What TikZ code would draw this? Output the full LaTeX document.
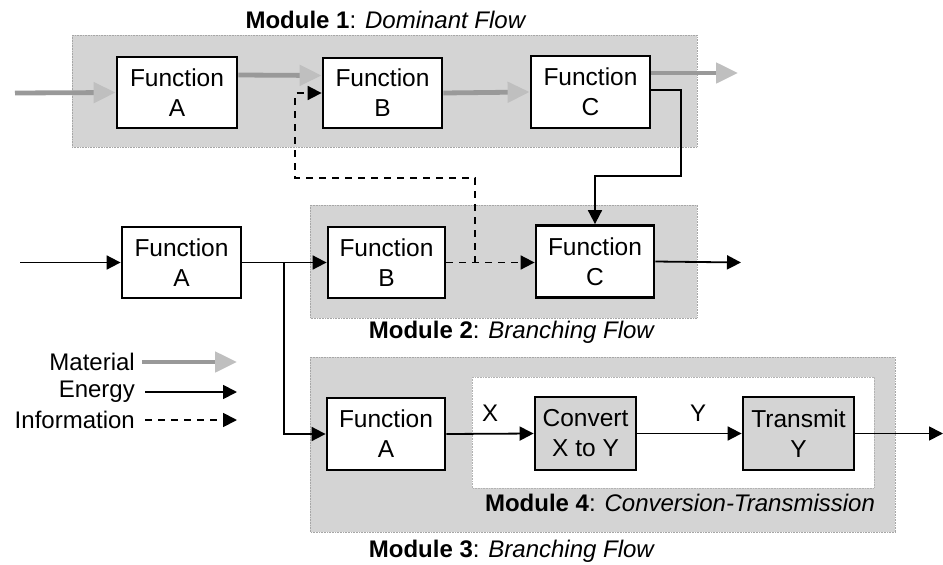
\documentclass[tikz,border=0pt]{standalone}
\usepackage{fontspec}
\setmainfont{Liberation Sans}
\usetikzlibrary{arrows.meta}
\definecolor{modgray}{gray}{0.83}
\definecolor{matgray}{gray}{0.6}
\tikzset{
  fbox/.style={draw=black, line width=2.8pt, fill=white, align=center, inner sep=0pt,
    font=\fontsize{24.5}{30}\selectfont},
  module/.style={fill=modgray, draw=gray!70, line width=0.6pt, densely dotted},
  submodule/.style={fill=white, draw=gray!60, line width=0.6pt, densely dotted},
  title/.style={font=\fontsize{24}{28}\selectfont, inner sep=0pt},
  lbl/.style={font=\fontsize{24}{28}\selectfont, inner sep=0pt},
  material/.style={draw=matgray, line width=4.8pt, -{Triangle[length=22pt,width=20pt,fill=gray!50,color=gray!50]}},
  energy/.style={draw=black, line width=1.8pt, -{Triangle[length=14pt,width=14pt]}},
  info/.style={draw=black, line width=1.8pt, dash pattern=on 7pt off 6pt, -{Triangle[length=14pt,width=14pt]}},
}
\begin{document}
\begin{tikzpicture}[x=1pt,y=-1pt]
\useasboundingbox (0,0) rectangle (943,565);
% module backgrounds
\fill[module] (72,35) rectangle (697,147);
\fill[module] (310,205) rectangle (697,318);
\fill[module] (310,357) rectangle (895,532);
\filldraw[submodule] (472,377) rectangle (874,488);
\draw[module, fill=none] (72,35) rectangle (697,147);
\draw[module, fill=none] (310,205) rectangle (697,318);
\draw[module, fill=none] (310,357) rectangle (895,532);
% titles
\node[title] (t1) at (386,20) {\textbf{Module 1}: \textit{Dominant Flow}};
\node[title] (t2) at (512,332) {\textbf{Module 2}: \textit{Branching Flow}};
\node[title] (t3) at (512,551) {\textbf{Module 3}: \textit{Branching Flow}};
\node[title] (t4) at (680,503) {\textbf{Module 4}: \textit{Conversion-Transmission}};
% boxes
\node[fbox, minimum width=120pt, minimum height=71pt] (m1A) at (177,92.5) {Function\\A};
\node[fbox, minimum width=119pt, minimum height=70pt] (m1B) at (382.5,93) {Function\\B};
\node[fbox, minimum width=119pt, minimum height=72pt] (m1C) at (590.5,92) {Function\\C};
\node[fbox, minimum width=119pt, minimum height=71pt] (m2A) at (181.5,262.5) {Function\\A};
\node[fbox, minimum width=117pt, minimum height=71pt] (m2B) at (386.5,262.5) {Function\\B};
\node[fbox, minimum width=118pt, minimum height=72pt] (m2C) at (595,261.5) {Function\\C};
\node[fbox, minimum width=118pt, minimum height=72pt] (m3A) at (386,434) {Function\\A};
\node[fbox, fill=modgray, minimum width=101pt, minimum height=73pt] (conv) at (585.5,433.5) {Convert\\X to Y};
\node[fbox, fill=modgray, minimum width=111pt, minimum height=73pt] (trans) at (798.5,433.5) {Transmit\\Y};
% coordinates
\coordinate (in1) at (15,93);
\coordinate (out1) at (738,73);
\coordinate (e1) at (681,176);
\coordinate (j) at (475,262.5);
\coordinate (i1) at (295,178);
\coordinate (in2) at (20,262.5);
\coordinate (out2) at (741,262.5);
\coordinate (br) at (284,262.5);
\coordinate (out3) at (943,433.5);
% material flows
\draw[material] (in1) -- (m1A.west);
\draw[material] ([yshift=17.5pt]m1A.east) -- ([yshift=17.5pt]m1B.west);
\draw[material] (m1B.east) -- (m1C.west);
\draw[material] ([yshift=19pt]m1C.east) -- (out1);
% energy flows
\draw[energy] ([yshift=2pt]m1C.east) -| (e1) -| (m2C.north);
\draw[energy] (in2) -- (m2A.west);
\draw[energy] (m2A.east) -- (m2B.west);
\draw[energy] (br) |- (m3A.west);
\draw[energy] (m2C.east) -- (out2);
\draw[energy] (m3A.east) -- (conv.west);
\draw[energy] (conv.east) -- (trans.west);
\draw[energy] (trans.east) -- (out3);
% information flows
\draw[info] (m2B.east) -- (m2B.east -| m2C.west);
\draw[info] (j) |- (i1) |- (m1B.west);
% X, Y labels
\node[lbl] (lx) at (490,413) {X};
\node[lbl] (ly) at (698,413) {Y};
% legend
\node[lbl, anchor=east] (lm) at (135,362) {Material};
\node[lbl, anchor=east] (le) at (135,392) {Energy};
\node[lbl, anchor=east] (li) at (135,420) {Information};
\coordinate (lme) at (237,362);
\coordinate (lee) at (237,392);
\coordinate (lie) at (237,420);
\draw[material] ([xshift=7pt]lm.east) -- (lme);
\draw[energy] ([xshift=10pt]le.east) -- (lee);
\draw[info] ([xshift=10pt]li.east) -- (lie);
\end{tikzpicture}
\end{document}
